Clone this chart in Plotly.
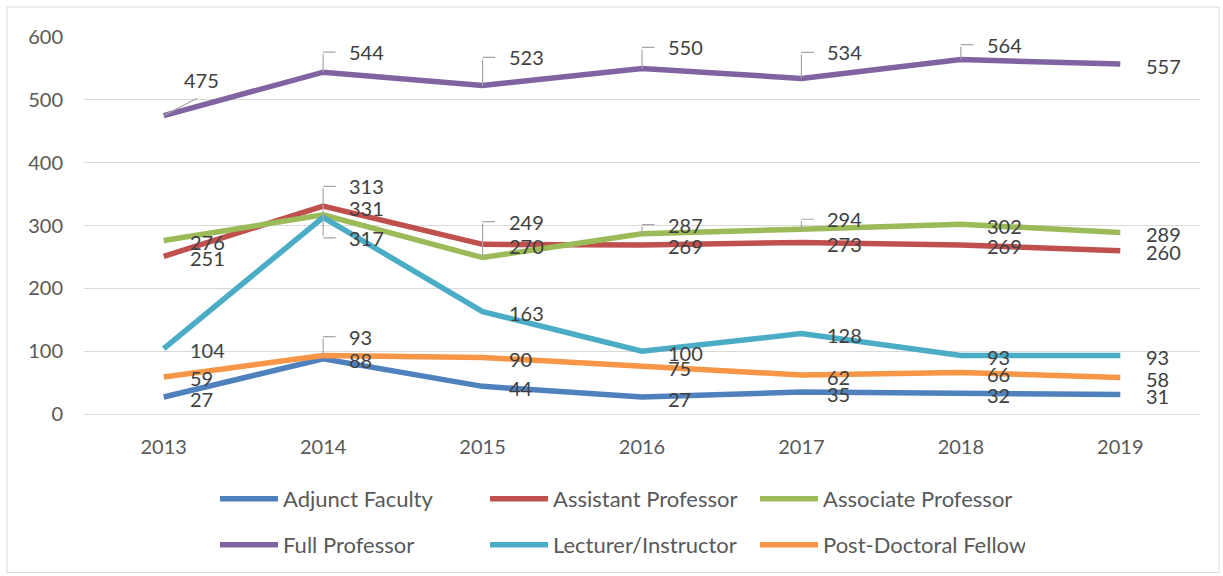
import plotly.graph_objects as go

# ---- data ----
years = [2013, 2014, 2015, 2016, 2017, 2018, 2019]
year_labels = ["2013", "2014", "2015", "2016", "2017", "2018", "2019"]
adjunct = [27, 88, 44, 27, 35, 32, 31]
assistant = [251, 331, 270, 269, 273, 269, 260]
associate = [276, 317, 249, 287, 294, 302, 289]
full_prof = [475, 544, 523, 550, 534, 564, 557]
lecturer = [104, 313, 163, 100, 128, 93, 93]
postdoc = [59, 93, 90, 75, 62, 66, 58]

series_names = ["Adjunct Faculty", "Assistant Professor", "Associate Professor",
                "Full Professor", "Lecturer/Instructor", "Post-Doctoral Fellow"]
series_values = [adjunct, assistant, associate, full_prof, lecturer, postdoc]
colors = ["#4F81BD", "#C0504D", "#9BBB59", "#8064A2", "#4BACC6", "#F79646"]

# ---- label placement styles (pixel offsets, not data) ----
leaders = {
    (3, 0): ("diag", 18, -36, 35, -18),
    (3, 1): ("bracket", -20),
    (3, 2): ("bracket", -28),
    (3, 3): ("bracket", -21),
    (3, 4): ("bracket", -26),
    (3, 5): ("bracket", -15),
    (4, 1): ("bracket", -31),
    (2, 1): ("bracket", 23),
    (5, 1): ("bracket", -19),
    (2, 2): ("bracket", -36),
    (2, 3): ("bracket", -9),
    (2, 4): ("bracket", -10),
}

FONT = "Lato, 'Open Sans', sans-serif"
TEXT = "#404040"
AXIS_TEXT = "#595959"
GRID = "#D9D9D9"
LEADER = "#A6A6A6"

fig = go.Figure()
for i, (name, vals, col) in enumerate(zip(series_names, series_values, colors)):
    fig.add_trace(go.Scatter(
        x=years, y=vals, name=name, mode="lines",
        line=dict(color=col, width=5.5),
        legend="legend" if i < 3 else "legend2",
        hoverinfo="skip",
    ))

label_font = dict(family=FONT, size=20, color=TEXT)
annotations = []
for si, vals in enumerate(series_values):
    for j, v in enumerate(vals):
        spec = leaders.get((si, j))
        xv = years[j]
        if spec is None:
            annotations.append(dict(x=xv, y=v, text=str(v), showarrow=False,
                                    xanchor="left", yanchor="middle",
                                    xshift=24, yshift=-1.5, font=label_font))
        elif spec[0] == "bracket":
            dy = spec[1]
            annotations.append(dict(x=xv, y=v, text=str(v), showarrow=False,
                                    xanchor="left", yanchor="middle",
                                    xshift=24, yshift=-dy, font=label_font))
            annotations.append(dict(x=xv, y=v, text=" ", showarrow=True,
                                    arrowhead=0, arrowwidth=1.2, arrowcolor=LEADER,
                                    ax=0, ay=dy, font=dict(size=1)))
            annotations.append(dict(x=xv, y=v, yshift=-dy, text=" ", showarrow=True,
                                    arrowhead=0, arrowwidth=1.2, arrowcolor=LEADER,
                                    ax=14, ay=0, font=dict(size=1)))
        else:
            _, dxt, dyt, ax, ay = spec
            annotations.append(dict(x=xv, y=v, text=str(v), showarrow=False,
                                    xanchor="left", yanchor="middle",
                                    xshift=dxt, yshift=-dyt, font=label_font))
            annotations.append(dict(x=xv, y=v, text=" ", showarrow=True,
                                    arrowhead=0, arrowwidth=1.2, arrowcolor=LEADER,
                                    ax=ax, ay=ay, font=dict(size=1)))

PL, PR, PT, PB = 84, 23, 37, 161
W, H = 1223, 576
pw, ph = W - PL - PR, H - PT - PB

def px_to_paper_x(px):
    return (px - PL) / pw

def px_to_paper_y(py):
    return (H - PB - py) / ph

legend_common = dict(orientation="h", xanchor="left", yanchor="middle", itemwidth=58,
                     entrywidth=197, font=dict(family=FONT, size=22, color=AXIS_TEXT),
                     bgcolor="rgba(0,0,0,0)")

fig.update_layout(
    width=W, height=H,
    margin=dict(l=PL, r=PR, t=PT, b=PB),
    paper_bgcolor="white", plot_bgcolor="white",
    font=dict(family=FONT, color=AXIS_TEXT),
    annotations=annotations,
    showlegend=True,
    legend=dict(x=px_to_paper_x(215), y=px_to_paper_y(499), **legend_common),
    legend2=dict(x=px_to_paper_x(215), y=px_to_paper_y(545), **legend_common),
    shapes=[dict(type="rect", xref="paper", yref="paper",
                 x0=px_to_paper_x(7), x1=px_to_paper_x(1219),
                 y0=px_to_paper_y(574), y1=px_to_paper_y(7),
                 line=dict(color=GRID, width=1), layer="below")],
)

fig.update_xaxes(range=[2012.5, 2019.5], tickvals=years, ticktext=year_labels,
                 showgrid=False, zeroline=False,
                 showline=True, linecolor=GRID, linewidth=1.3,
                 ticks="", tickfont=dict(family=FONT, size=20, color=AXIS_TEXT),
                 ticklabelstandoff=15)
fig.update_yaxes(range=[0, 600], dtick=100, showgrid=True, gridcolor=GRID,
                 gridwidth=1.3, zeroline=False, ticks="",
                 tickfont=dict(family=FONT, size=20, color=AXIS_TEXT),
                 ticklabelstandoff=20)

post = "document.body.style.margin='0';"
fig.write_html("out.html", post_script=post, config={"displayModeBar": False})
